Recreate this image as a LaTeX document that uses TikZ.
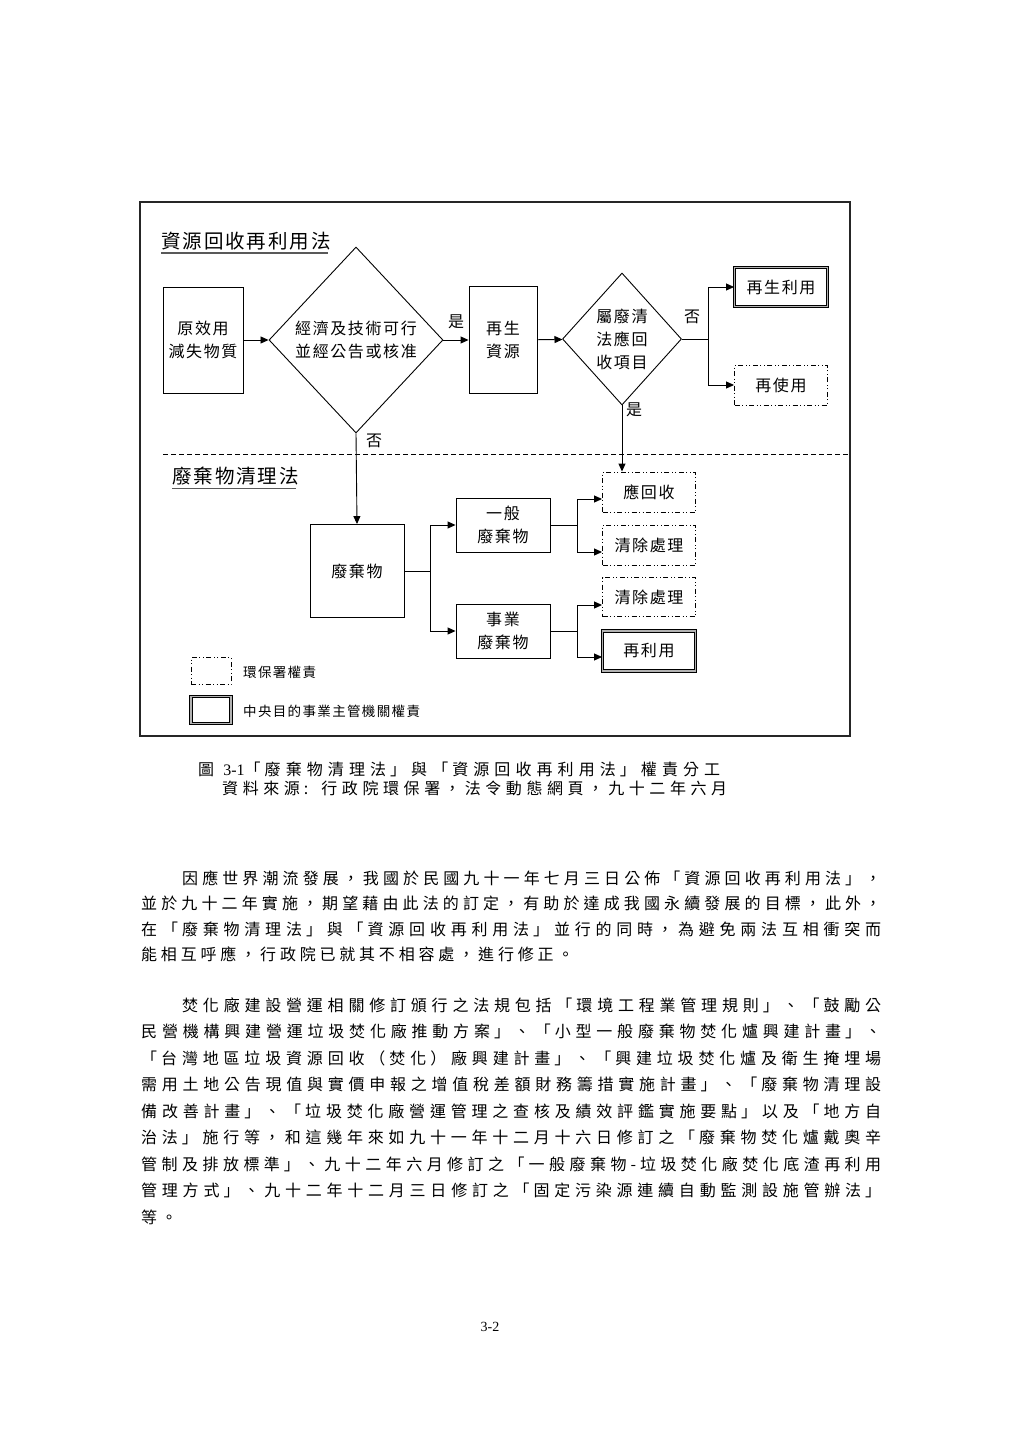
\documentclass[tikz,border=0pt]{standalone}
\usepackage{fontspec}
\setmainfont{Noto Sans CJK TC}
\newfontfamily\chartfont[LetterSpace=10]{Noto Sans CJK TC}
\newfontfamily\bodyfont[LetterSpace=25]{Noto Sans CJK TC}
\newfontfamily\serifnum{Liberation Serif}
\usetikzlibrary{positioning,arrows.meta,shapes.geometric}
\XeTeXlinebreaklocale "zh"
\XeTeXlinebreakskip=0pt plus 12pt
\newcommand\bodyglue{\XeTeXlinebreakskip=3.8pt plus 10pt\relax}

\begin{document}
\begin{tikzpicture}[
  x=1pt, y=-1pt,
  font=\chartfont\fontsize{16}{23}\selectfont,
  box/.style={draw, line width=0.9pt, inner sep=0pt, align=center},
  epabox/.style={box, dash pattern=on 5pt off 2.5pt on 1pt off 2.5pt on 1pt off 2.5pt},
  moabox/.style={box, double=black!30, double distance=1.6pt},
  decision/.style={draw, diamond, line width=0.9pt, inner sep=0pt, align=center},
  arrow/.style={-{Triangle[length=8pt, width=7pt]}, line width=0.9pt},
  lawtitle/.style={font=\chartfont\fontsize{19.5}{24}\selectfont, inner sep=0pt, anchor=west},
  underbar/.style={line width=1.6pt, black!65},
  lbl/.style={inner sep=0pt},
  keytext/.style={font=\chartfont\fontsize{13.5}{16}\selectfont, inner sep=0pt, anchor=west},
  bodytext/.style={anchor=base west, inner sep=0pt, align=justify}
]
\useasboundingbox (0,0) rectangle (1024,1450);

% frame and the two laws
\draw[line width=1.1pt, black!85] (140,202) rectangle (850,736);
\node[lawtitle] (recyclelaw) at (161,241) {資源回收再利用法};
\draw[underbar] ([yshift=-3pt]recyclelaw.south west) -- ([yshift=-3pt,xshift=-3pt]recyclelaw.south east);
\coordinate (sepL) at (163,454);
\coordinate (sepR) at (848,454);
\draw[line width=0.9pt, dash pattern=on 5pt off 3pt] (sepL) -- (sepR);
\node[lawtitle] (wastelaw) at (172,476) {廢棄物清理法};
\draw[underbar] ([yshift=-3pt]wastelaw.south west) -- ([yshift=-3pt,xshift=-3pt]wastelaw.south east);

% upper part
\node[box, minimum width=80pt, minimum height=106pt] (source) at (203,340) {原效用\\減失物質};
\node[decision, minimum width=174pt, minimum height=186pt] (feasible) at (356,340) {經濟及技術可行\\並經公告或核准};
\node[box, minimum width=68pt, minimum height=107pt] (resource) at (503,340) {再生\\資源};
\node[decision, minimum width=119pt, minimum height=132pt] (listed) at (622,339) {屬廢清\\法應回\\收項目};
\node[moabox, minimum width=93pt, minimum height=39pt] (recycle) at (781,287) {再生利用};
\node[epabox, minimum width=93pt, minimum height=40pt] (reuse) at (781,385) {再使用};

% lower part
\node[box, minimum width=94pt, minimum height=93pt] (waste) at (357,571) {廢棄物};
\node[box, minimum width=94pt, minimum height=54pt] (general) at (503,525) {一般\\廢棄物};
\node[box, minimum width=94pt, minimum height=54pt] (industrial) at (503,631) {事業\\廢棄物};
\node[epabox, minimum width=93pt, minimum height=40pt] (collect) at (649,492) {應回收};
\node[epabox, minimum width=93pt, minimum height=40pt] (dispose1) at (649,545) {清除處理};
\node[epabox, minimum width=93pt, minimum height=39pt] (dispose2) at (649,597) {清除處理};
\node[moabox, minimum width=93pt, minimum height=40pt] (reutil) at (649,651) {再利用};

% legend
\node[epabox, minimum width=40pt, minimum height=27pt] (keyepa) at (211,671) {};
\node[keytext] (keyepatext) at (243,672) {環保署權責};
\node[moabox, minimum width=40pt, minimum height=27pt] (keymoa) at (211,710) {};
\node[keytext] (keymoatext) at (243,711) {中央目的事業主管機關權責};

% connectors
\coordinate (fork1) at (708,339);
\coordinate (fork2) at (430,571);
\coordinate (fork3) at (577,525);
\coordinate (fork4) at (577,631);
\draw[arrow] (source) -- (feasible);
\draw[arrow] (feasible) -- node[lbl, above=11pt] (yes1) {是} (resource);
\draw[arrow] (resource) -- (listed);
\draw[line width=0.9pt] (listed.east) -- (fork1);
\node[lbl] (no2) at (692,317) {否};
\draw[arrow] (fork1) |- (recycle.west);
\draw[arrow] (fork1) |- (reuse.west);
\draw[arrow] (listed.south) -- (listed.south |- collect.north);
\node[lbl] (yes2) at (634,410) {是};
\draw[arrow] (feasible.south) -- (waste.north);
\node[lbl] (no1) at (374,441) {否};
\draw[line width=0.9pt] (waste.east) -- (fork2);
\draw[arrow] (fork2) |- (general.west);
\draw[arrow] (fork2) |- (industrial.west);
\draw[line width=0.9pt] (general.east) -- (fork3);
\draw[arrow] (fork3) |- ([yshift=-7pt]collect.west);
\draw[arrow] (fork3) |- ([yshift=-7pt]dispose1.west);
\draw[line width=0.9pt] (industrial.east) -- (fork4);
\draw[arrow] (fork4) |- ([yshift=-8pt]dispose2.west);
\draw[arrow] (fork4) |- ([yshift=-6pt]reutil.west);

% caption and text of the page
\node[bodytext, text width=522pt, font=\bodyfont\fontsize{16}{20}\selectfont] (caption) at (198,775)
  {圖 {\serifnum 3-1}「廢棄物清理法」與「資源回收再利用法」權責分工\linebreak\mbox{}};
\node[bodytext, text width=505pt, font=\bodyfont\fontsize{16}{20}\selectfont] (credit) at (222,794)
  {資料來源: 行政院環保署，法令動態網頁，九十二年六月\linebreak\mbox{}};

\node[bodytext, text width=740pt, font=\bodyfont\fontsize{16}{25.5}\selectfont] (para1) at (141,884)
  {\bodyglue\hspace*{41pt}因應世界潮流發展，我國於民國九十一年七月三日公佈「資源回收再利用法」，\linebreak
   並於九十二年實施，期望藉由此法的訂定，有助於達成我國永續發展的目標，此外，\linebreak
   在「廢棄物清理法」與「資源回收再利用法」並行的同時，為避免兩法互相衝突而\linebreak
   能相互呼應，行政院已就其不相容處，進行修正。};

\node[bodytext, text width=740pt, font=\bodyfont\fontsize{16}{26.5}\selectfont] (para2) at (141,1011)
  {\bodyglue\hspace*{41pt}焚化廠建設營運相關修訂頒行之法規包括「環境工程業管理規則」、「鼓勵公\linebreak
   民營機構興建營運垃圾焚化廠推動方案」、「小型一般廢棄物焚化爐興建計畫」、\linebreak
   「台灣地區垃圾資源回收（焚化）廠興建計畫」、「興建垃圾焚化爐及衛生掩埋場\linebreak
   需用土地公告現值與實價申報之增值稅差額財務籌措實施計畫」、「廢棄物清理設\linebreak
   備改善計畫」、「垃圾焚化廠營運管理之查核及績效評鑑實施要點」以及「地方自\linebreak
   治法」施行等，和這幾年來如九十一年十二月十六日修訂之「廢棄物焚化爐戴奧辛\linebreak
   管制及排放標準」、九十二年六月修訂之「一般廢棄物-垃圾焚化廠焚化底渣再利用\linebreak
   管理方式」、九十二年十二月三日修訂之「固定污染源連續自動監測設施管辦法」\linebreak
   等。};

\node[font=\serifnum\fontsize{14}{16}\selectfont, inner sep=0pt] (pageno) at (490,1327) {3-2};
\end{tikzpicture}
\end{document}
